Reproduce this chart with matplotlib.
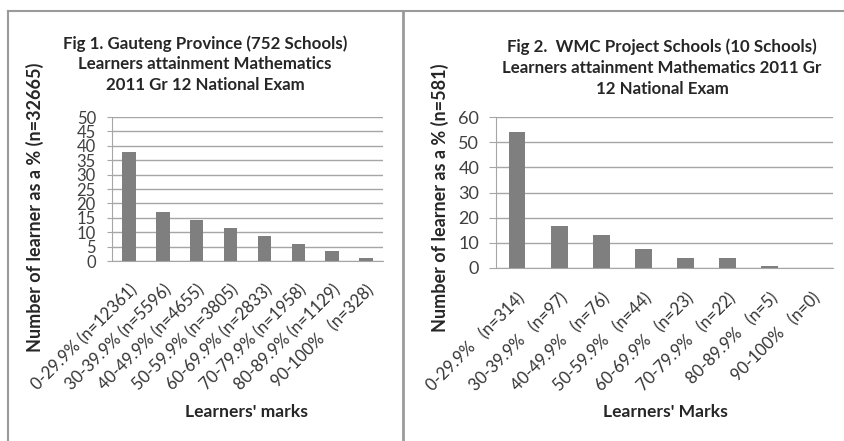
import numpy as np
import matplotlib
matplotlib.use("Agg")
from matplotlib import pyplot as plt
from matplotlib.lines import Line2D

plt.rcParams['font.family'] = ['Lato', 'DejaVu Sans']

# Fig 1 data - Gauteng province
labels1 = ["0-29.9% (n=12361)", "30-39.9% (n=5596)", "40-49.9% (n=4655)",
           "50-59.9% (n=3805)", "60-69.9% (n=2833)", "70-79.9% (n=1958)",
           "80-89.9% (n=1129)", "90-100%   (n=328)"]
pct1 = [37.8, 17.1, 14.3, 11.6, 8.7, 6.0, 3.5, 1.0]
yticks1 = [0, 5, 10, 15, 20, 25, 30, 35, 40, 45, 50]

# Fig 2 data - WMC project schools
labels2 = ["0-29.9%   (n=314)", "30-39.9%   (n=97)", "40-49.9%   (n=76)",
           "50-59.9%   (n=44)", "60-69.9%   (n=23)", "70-79.9%   (n=22)",
           "80-89.9%   (n=5)", "90-100%   (n=0)"]
pct2 = [54.0, 16.7, 13.1, 7.6, 4.0, 3.8, 0.9, 0.0]
yticks2 = [0, 10, 20, 30, 40, 50, 60]

W, H = 845, 441
fig = plt.figure(figsize=(W / 100, H / 100), dpi=100)
txt = "#262626"


def px(x, y):
    # pixel coords (from top-left) -> figure fraction
    return x / W, 1 - y / H


def draw(ax, labels, vals, yticks, ysize, ticklen, ypad, xpad):
    x = np.arange(len(vals))
    ax.bar(x, vals, width=0.4, color="#7f7f7f", zorder=3)
    ax.set_xlim(-0.5, len(vals) - 0.5)
    ax.set_ylim(yticks[0], yticks[-1])
    ax.set_yticks(yticks)
    ax.yaxis.grid(True, color="#a6a6a6", linewidth=1, zorder=0)
    for s in ["top", "right"]:
        ax.spines[s].set_visible(False)
    ax.spines["left"].set_color("#a6a6a6")
    ax.spines["bottom"].set_color("#a6a6a6")
    ax.tick_params(axis="y", length=ticklen, color="#a6a6a6", labelsize=ysize,
                   labelcolor="#404040", pad=ypad)
    ax.tick_params(axis="x", length=0, pad=xpad)
    ax.set_xticks(x)
    ax.set_xticklabels(labels, rotation=45, ha="right", rotation_mode="anchor",
                       fontsize=12, color="#333333")


ax1 = fig.add_axes([112 / W, (H - 261) / H, 271 / W, 144 / H])
draw(ax1, labels1, pct1, yticks1, 12, 3.6, 8, 15)
ax2 = fig.add_axes([496 / W, (H - 268) / H, 337 / W, 151 / H])
draw(ax2, labels2, pct2, yticks2, 13, 5, 7, 16)

# titles
fig.text(*px(205, 64), "Fig 1. Gauteng Province (752 Schools)\nLearners attainment Mathematics\n2011 Gr 12 National Exam",
         ha="center", va="center", fontsize=12.2, fontweight="bold", linespacing=1.35, color=txt)
fig.text(*px(662, 68), "Fig 2.  WMC Project Schools (10 Schools)\nLearners attainment Mathematics 2011 Gr\n12 National Exam",
         ha="center", va="center", fontsize=12.2, fontweight="bold", linespacing=1.4, color=txt)

# axis labels
fig.text(*px(35, 207), "Number of learner as a % (n=32665)", rotation=90,
         ha="center", va="center", fontsize=13, fontweight="bold", color=txt)
fig.text(*px(440, 198), "Number of learner as a % (n=581)", rotation=90,
         ha="center", va="center", fontsize=13, fontweight="bold", color=txt)
fig.text(*px(247, 412), "Learners' marks", ha="center", va="center",
         fontsize=12.6, fontweight="bold", color=txt)
fig.text(*px(665, 412), "Learners' Marks", ha="center", va="center",
         fontsize=12.6, fontweight="bold", color=txt)

# frame lines
frame = "#9a9a9a"
fig.add_artist(Line2D([8 / W, 1], [1 - 11 / H] * 2, color=frame, lw=1.5))
fig.add_artist(Line2D([8 / W] * 2, [0, 1 - 11 / H], color=frame, lw=1.5))
fig.add_artist(Line2D([403 / W] * 2, [0, 1 - 11 / H], color=frame, lw=2))

fig.savefig("out.png", dpi=100)
